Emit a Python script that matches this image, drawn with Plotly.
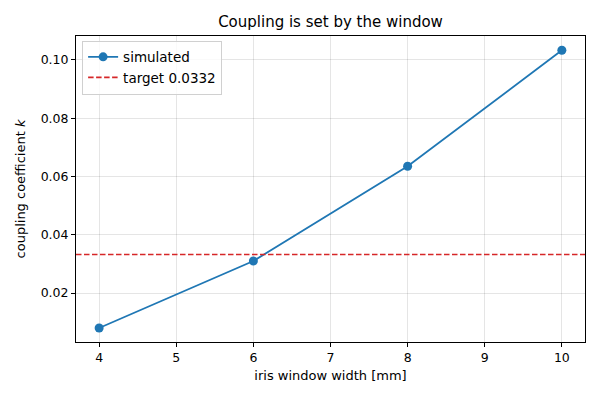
import plotly.graph_objects as go

# iris window width [mm] vs simulated coupling coefficient
window_width = [4, 6, 8, 10]
coupling_k = [0.0080, 0.0310, 0.0635, 0.1033]
target_k = 0.0332

x_ticks = [4, 5, 6, 7, 8, 9, 10]
y_ticks = [0.02, 0.04, 0.06, 0.08, 0.10]

blue = '#1f77b4'
red = '#d62728'
dash = '5.5px,2.5px'

fig = go.Figure()

fig.add_trace(go.Scatter(
    x=window_width, y=coupling_k,
    mode='lines+markers',
    name='simulated',
    line=dict(color=blue, width=1.8),
    marker=dict(color=blue, size=9),
))

# legend entry for the target line (the line itself is an hline)
fig.add_trace(go.Scatter(
    x=[None], y=[None],
    mode='lines',
    name=f'target {target_k}',
    line=dict(color=red, width=1.6, dash=dash),
))
fig.add_hline(y=target_k, line=dict(color=red, width=1.6, dash=dash))

# page body has an 8px margin, so the figure is a bit smaller than the window
fig.update_layout(
    width=592, height=392,
    margin=dict(l=68, r=15, t=28, b=58),
    paper_bgcolor='white',
    plot_bgcolor='white',
    font=dict(family='DejaVu Sans', size=12.5, color='black'),
    title=dict(text='Coupling is set by the window', x=0.5, xanchor='center',
               xref='paper', y=1 - 14 / 392, yref='container', yanchor='middle',
               font=dict(size=15, color='black')),
    showlegend=True,
    legend=dict(
        x=0.012, y=0.985, xanchor='left', yanchor='top',
        bgcolor='rgba(255,255,255,0.8)',
        bordercolor='#d0d0d0', borderwidth=1,
        font=dict(size=13.5),
        tracegroupgap=0,
    ),
)

fig.update_xaxes(
    range=[3.7, 10.3],
    tickvals=x_ticks,
    ticks='outside', ticklen=4, tickcolor='black',
    showline=True, linecolor='black', linewidth=1, mirror=True,
    showgrid=True, gridcolor='rgba(0,0,0,0.1)', gridwidth=1,
    zeroline=False, automargin=False,
    title=dict(text='iris window width [mm]', font=dict(size=13), standoff=6),
)
fig.update_yaxes(
    range=[0.0032, 0.1082],
    tickvals=y_ticks,
    tickformat='.2f',
    ticks='outside', ticklen=4, tickcolor='black',
    showline=True, linecolor='black', linewidth=1, mirror=True,
    showgrid=True, gridcolor='rgba(0,0,0,0.1)', gridwidth=1,
    zeroline=False, automargin=False,
    title=dict(text='coupling coefficient <i>k</i>', font=dict(size=13), standoff=12),
)

fig.write_html("out.html")
